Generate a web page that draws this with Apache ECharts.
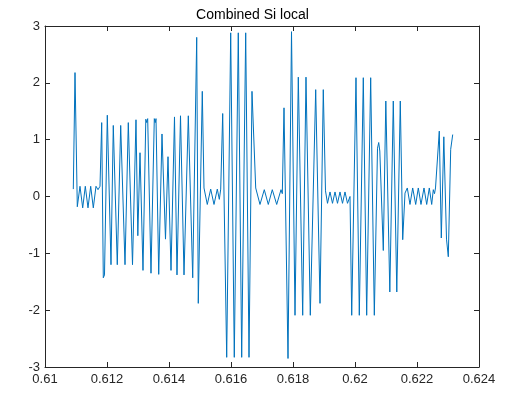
<!DOCTYPE html>
<html>
<head>
<meta charset="utf-8">
<script src="https://cdn.jsdelivr.net/npm/echarts@6/dist/echarts.min.js"></script>
<style>html,body{margin:0;padding:0;background:#fff;}#c{width:505px;height:393px;}</style>
</head>
<body>
<div id="c"></div>
<script>
var titleText = 'Combined Si local';
var xTicks = [0.61, 0.612, 0.614, 0.616, 0.618, 0.62, 0.622, 0.624];
var yTicks = [-3, -2, -1, 0, 1, 2, 3];
var time = [
0.610913,0.610968,0.611042,0.611129,0.611216,0.611300,0.611387,0.611474,0.611558,0.611645,0.611710,0.611774,
0.611829,0.611881,0.611919,0.612010,0.612129,0.612203,0.612332,0.612442,0.612581,0.612687,0.612823,0.612935,
0.612994,0.613065,0.613161,0.613252,0.613284,0.613313,0.613419,0.613526,0.613555,0.613581,0.613668,0.613774,
0.613887,0.613968,0.614065,0.614177,0.614258,0.614371,0.614484,0.614623,0.614765,0.614894,0.614945,0.615074,
0.615129,0.615235,0.615345,0.615452,0.615558,0.615623,0.615668,0.615732,0.615861,0.615990,0.616106,0.616235,
0.616345,0.616474,0.616581,0.616677,0.616797,0.616935,0.617074,0.617203,0.617332,0.617474,0.617613,0.617655,
0.617710,0.617839,0.617952,0.618065,0.618171,0.618313,0.618419,0.618558,0.618732,0.618871,0.618977,0.619048,
0.619113,0.619194,0.619274,0.619355,0.619435,0.619516,0.619597,0.619677,0.619758,0.619839,0.619894,0.620032,
0.620139,0.620268,0.620377,0.620506,0.620623,0.620726,0.620765,0.620800,0.620913,0.620994,0.621123,0.621235,
0.621348,0.621461,0.621539,0.621613,0.621687,0.621774,0.621861,0.621958,0.622042,0.622129,0.622226,0.622313,
0.622397,0.622474,0.622526,0.622565,0.622597,0.622719,0.622784,0.622865,0.622952,0.623010,0.623087,0.623152
];
var signal = [
0.13,2.18,-0.18,0.18,-0.2,0.18,-0.2,0.18,-0.2,0.18,0.12,0.18,
1.3,-1.43,-1.38,1.43,-1.2,1.25,-1.2,1.25,-1.2,1.3,-1.2,1.35,
-0.69,0.77,-1.3,1.36,1.3,1.37,-1.35,1.37,1.3,1.37,-1.37,1.1,
-0.75,0.7,-1.3,1.4,-1.38,1.42,-1.38,1.42,-1.43,2.8,-1.88,1.85,
0.15,-0.14,0.13,-0.14,0.13,-0.05,0.13,1.46,-2.83,2.88,-2.83,2.88,
-2.83,2.88,-2.83,1.85,0.15,-0.14,0.12,-0.14,0.12,-0.14,0.12,0.05,
1.56,-2.85,2.9,-2.09,2.1,-2.09,2.1,-2.09,1.88,-1.88,1.88,0.1,
-0.12,0.08,-0.12,0.08,-0.12,0.08,-0.12,0.08,-0.12,0.0,-2.09,2.09,
-2.09,2.09,-2.09,2.09,-2.09,0.85,0.95,0.8,-0.95,1.68,-1.68,1.68,
-1.68,1.68,-0.76,0.06,0.15,-0.14,0.15,-0.14,0.15,-0.14,0.15,-0.14,
0.15,-0.14,0.12,0.05,0.15,1.15,-0.73,1.05,-0.75,-1.06,0.83,1.09
];

var axisColor = '#262626';
var fontFam = '"Liberation Sans", Arial, Helvetica, sans-serif';
function fmt(v){ return String(parseFloat(v.toFixed(4))); }
var xMin = xTicks[0], xMax = xTicks[xTicks.length-1], xInt = xTicks[1]-xTicks[0];
var yMin = yTicks[0], yMax = yTicks[yTicks.length-1], yInt = yTicks[1]-yTicks[0];
function xAx(pos, labels){
  return {type:'value', position:pos, min:xMin, max:xMax, interval:0.002,
    axisLine:{show:true, onZero:false, lineStyle:{color:axisColor, width:1}},
    axisTick:{show:true, inside:true, length:5, lineStyle:{color:axisColor}},
    axisLabel:{show:labels, fontSize:13, color:axisColor, fontFamily:fontFam, margin:6, formatter:fmt, showMinLabel:true, showMaxLabel:true},
    splitLine:{show:false}};
}
function yAx(pos, labels){
  return {type:'value', position:pos, min:yMin, max:yMax, interval:yInt,
    axisLine:{show:true, onZero:false, lineStyle:{color:axisColor, width:1}},
    axisTick:{show:true, inside:true, length:5, lineStyle:{color:axisColor}},
    axisLabel:{show:labels, fontSize:13, color:axisColor, fontFamily:fontFam, margin:5, formatter:fmt},
    splitLine:{show:false}};
}
var chart = echarts.init(document.getElementById('c'), null, {renderer:'canvas'});
chart.setOption({
  animation:false,
  backgroundColor:'#ffffff',
  title:{text:titleText, left:'center', top:3, textStyle:{fontSize:14, fontWeight:'normal', color:'#000', fontFamily:fontFam}},
  grid:{left:45, right:26, top:26, bottom:26, containLabel:false},
  xAxis:[xAx('bottom', true), xAx('top', false)],
  yAxis:[yAx('left', true), yAx('right', false)],
  series:[{type:'line', xAxisIndex:0, yAxisIndex:0, showSymbol:false, symbol:'none',
    data: time.map(function(t,i){return [t, signal[i]];}),
    lineStyle:{color:'#0072BD', width:1}, itemStyle:{color:'#0072BD'}}]
});
</script>
</body>
</html>
